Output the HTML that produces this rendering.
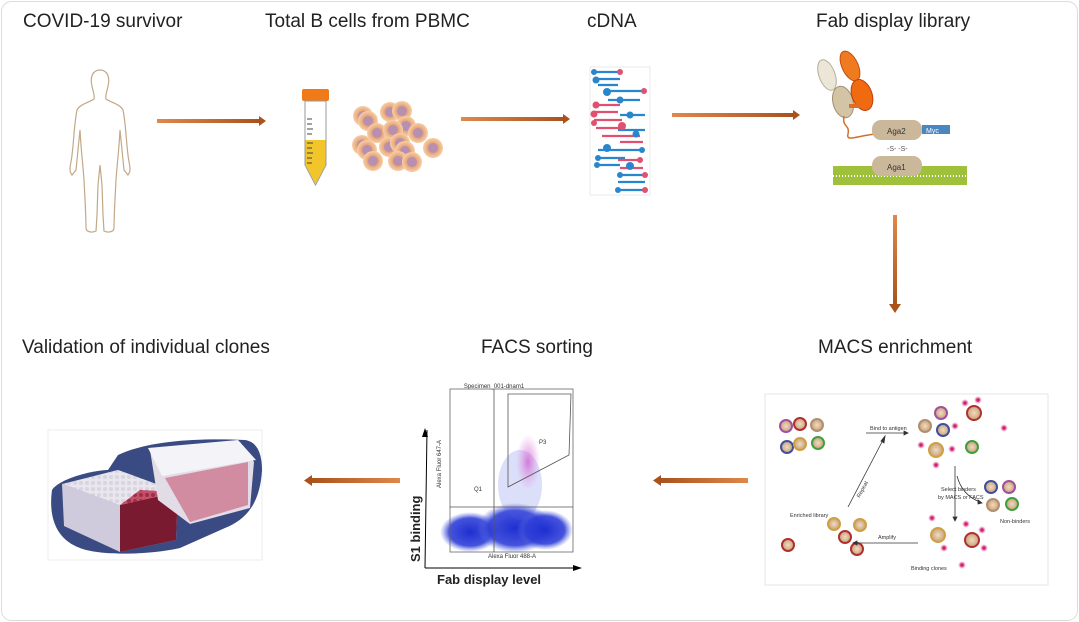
<!DOCTYPE html>
<html><head><meta charset="utf-8"><style>
html,body{margin:0;padding:0;background:#fff}
svg{display:block}
text{font-family:"Liberation Sans",Arial,sans-serif}
</style></head><body>
<svg width="1079" height="622" viewBox="0 0 1079 622" xmlns="http://www.w3.org/2000/svg">
<defs>
<linearGradient id="ar" x1="0" y1="0" x2="1" y2="0"><stop offset="0" stop-color="#e0884a"/><stop offset="1" stop-color="#a9521c"/></linearGradient>
<linearGradient id="arl" x1="1" y1="0" x2="0" y2="0"><stop offset="0" stop-color="#e0884a"/><stop offset="1" stop-color="#a9521c"/></linearGradient>
<linearGradient id="arv" x1="0" y1="0" x2="0" y2="1"><stop offset="0" stop-color="#e0884a"/><stop offset="1" stop-color="#a9521c"/></linearGradient>
<radialGradient id="cell"><stop offset="0.45" stop-color="#b98fb0"/><stop offset="0.55" stop-color="#e9a878"/><stop offset="1" stop-color="#f6cfa8"/></radialGradient>
<radialGradient id="blue"><stop offset="0" stop-color="#1f2fd0"/><stop offset="0.7" stop-color="#3040d8" stop-opacity="0.9"/><stop offset="1" stop-color="#6070e0" stop-opacity="0"/></radialGradient>
<radialGradient id="pink"><stop offset="0" stop-color="#d060d0" stop-opacity="0.8"/><stop offset="1" stop-color="#e090e0" stop-opacity="0"/></radialGradient>
<radialGradient id="yc"><stop offset="0" stop-color="#f0dcc0"/><stop offset="1" stop-color="#c8a07a"/></radialGradient>
<radialGradient id="pk"><stop offset="0.3" stop-color="#d02070"/><stop offset="1" stop-color="#f080b0" stop-opacity="0"/></radialGradient>
<pattern id="wells" width="6" height="6" patternUnits="userSpaceOnUse"><rect width="6" height="6" fill="#e9e6ee"/><circle cx="3" cy="3" r="2" fill="#d8d4e0"/></pattern>
<pattern id="rwells" width="6" height="6" patternUnits="userSpaceOnUse"><rect width="6" height="6" fill="#c0405a"/><circle cx="3" cy="3" r="2" fill="#9a1a38"/></pattern>
</defs>
<rect x="1.5" y="1.5" width="1076" height="619" rx="10" fill="#fff" stroke="#dcdcdc"/>

<g font-size="19" fill="#222">
<text x="23" y="27">COVID-19 survivor</text>
<text x="265" y="27">Total B cells from PBMC</text>
<text x="587" y="27">cDNA</text>
<text x="816" y="27">Fab display library</text>
<text x="22" y="353">Validation of individual clones</text>
<text x="481" y="353">FACS sorting</text>
<text x="818" y="353">MACS enrichment</text>
</g>

<rect x="157" y="119" width="103" height="4" fill="url(#ar)"/><polygon points="259,116 266,121 259,126" fill="#a9521c"/>
<rect x="461" y="117" width="103" height="4" fill="url(#ar)"/><polygon points="563,114 570,119 563,124" fill="#a9521c"/>
<rect x="672" y="113" width="122" height="4" fill="url(#ar)"/><polygon points="793,110 800,115 793,120" fill="#a9521c"/>
<rect x="893" y="215" width="4" height="90" fill="url(#arv)"/><polygon points="889,304 895,313 901,304" fill="#a9521c"/>
<rect x="311" y="478" width="89" height="5" fill="url(#arl)"/><polygon points="312,475 304,480.5 312,486" fill="#a9521c"/>
<rect x="660" y="478" width="88" height="5" fill="url(#arl)"/><polygon points="661,475 653,480.5 661,486" fill="#a9521c"/>

<path d="M100,70 C92,70 90,78 92,86 C93,92 95,95 94,99 C90,102 80,104 77,110 C74,125 74,140 72,155 C71,165 68,170 72,175 L76,170 L78,150 L80,130 C81,150 83,165 84,180 C85,200 86,215 86,228 C86,232 92,233 96,231 L97,215 L98,185 L100,165 L102,185 L103,215 L104,231 C108,233 114,232 114,228 C114,215 115,200 116,180 C117,165 119,150 120,130 L122,150 L124,170 L128,175 C132,170 129,165 128,155 C126,140 126,125 123,110 C120,104 110,102 106,99 C105,95 107,92 108,86 C110,78 108,70 100,70 Z" fill="none" stroke="#c2a886" stroke-width="1.2"/>

<rect x="302" y="89" width="27" height="12" rx="2" fill="#f07a18"/>
<path d="M305,101 L326,101 L326,165 L315.5,185 L305,165 Z" fill="#fff" stroke="#999"/>
<path d="M305.5,140 L325.5,140 L325.5,165 L315.5,184 L305.5,165 Z" fill="#f2c52a"/>
<g stroke="#444" stroke-width="1"><line x1="307" y1="119" x2="312" y2="119"/><line x1="307" y1="124" x2="312" y2="124"/><line x1="307" y1="129" x2="313" y2="129"/><line x1="307" y1="134" x2="312" y2="134"/><line x1="307" y1="143" x2="313" y2="143"/><line x1="307" y1="148" x2="312" y2="148"/><line x1="307" y1="153" x2="313" y2="153"/><line x1="307" y1="158" x2="312" y2="158"/><line x1="307" y1="163" x2="312" y2="163"/></g>

<g>
<circle cx="363" cy="116" r="10" fill="url(#cell)"/><circle cx="368" cy="121" r="10" fill="url(#cell)"/>
<circle cx="362" cy="145" r="10" fill="url(#cell)"/><circle cx="367" cy="150" r="10" fill="url(#cell)"/>
<circle cx="373" cy="161" r="10" fill="url(#cell)"/>
<circle cx="390" cy="112" r="10" fill="url(#cell)"/><circle cx="402" cy="111" r="10" fill="url(#cell)"/>
<circle cx="406" cy="126" r="10" fill="url(#cell)"/><circle cx="377" cy="133" r="10" fill="url(#cell)"/>
<circle cx="393" cy="130" r="10" fill="url(#cell)"/><circle cx="389" cy="147" r="10" fill="url(#cell)"/>
<circle cx="400" cy="143" r="10" fill="url(#cell)"/><circle cx="418" cy="133" r="10" fill="url(#cell)"/>
<circle cx="405" cy="151" r="10" fill="url(#cell)"/><circle cx="398" cy="161" r="10" fill="url(#cell)"/>
<circle cx="412" cy="162" r="10" fill="url(#cell)"/><circle cx="433" cy="148" r="10" fill="url(#cell)"/>
</g>

<rect x="590" y="67" width="60" height="128" fill="#fff" stroke="#ddd" stroke-width="0.6"/>
<g stroke-width="2.2">
<g stroke="#2a86cc"><line x1="594" y1="72" x2="620" y2="72"/><line x1="596" y1="79" x2="620" y2="79"/><line x1="598" y1="85" x2="618" y2="85"/><line x1="606" y1="91" x2="643" y2="91"/><line x1="608" y1="100" x2="640" y2="100"/><line x1="620" y1="115" x2="645" y2="115"/><line x1="618" y1="130" x2="645" y2="130"/><line x1="598" y1="150" x2="640" y2="150"/><line x1="596" y1="158" x2="625" y2="158"/><line x1="596" y1="165" x2="620" y2="165"/><line x1="620" y1="175" x2="645" y2="175"/><line x1="618" y1="182" x2="645" y2="182"/><line x1="618" y1="190" x2="645" y2="190"/></g>
<g stroke="#e05070"><line x1="596" y1="105" x2="620" y2="105"/><line x1="594" y1="112" x2="618" y2="112"/><line x1="594" y1="120" x2="622" y2="120"/><line x1="596" y1="128" x2="625" y2="128"/><line x1="602" y1="136" x2="640" y2="136"/><line x1="620" y1="142" x2="643" y2="142"/><line x1="618" y1="160" x2="640" y2="160"/><line x1="620" y1="168" x2="643" y2="168"/></g>
</g>
<g fill="#2a86cc"><circle cx="594" cy="72" r="3"/><circle cx="596" cy="80" r="3.5"/><circle cx="607" cy="92" r="4"/><circle cx="620" cy="100" r="3.5"/><circle cx="630" cy="115" r="3.5"/><circle cx="607" cy="148" r="4"/><circle cx="598" cy="158" r="3"/><circle cx="597" cy="165" r="3"/><circle cx="630" cy="166" r="4"/><circle cx="620" cy="175" r="3"/><circle cx="618" cy="190" r="3"/><circle cx="642" cy="150" r="3"/><circle cx="636" cy="134" r="3.5"/></g>
<g fill="#e05070"><circle cx="620" cy="72" r="3"/><circle cx="644" cy="91" r="3"/><circle cx="596" cy="105" r="3.5"/><circle cx="594" cy="114" r="3.5"/><circle cx="622" cy="126" r="4"/><circle cx="594" cy="123" r="3"/><circle cx="645" cy="190" r="3"/><circle cx="645" cy="175" r="3"/><circle cx="640" cy="160" r="3"/></g>

<!-- Fab display -->
<ellipse cx="827" cy="75" rx="8" ry="16" transform="rotate(-20 827 75)" fill="#ebe6d8" stroke="#b8ad95"/>
<ellipse cx="843" cy="102" rx="10" ry="16" transform="rotate(-15 843 102)" fill="#d4c4a6" stroke="#a09070"/>
<ellipse cx="850" cy="66" rx="8" ry="16" transform="rotate(-25 850 66)" fill="#f07a20" stroke="#c05010"/>
<ellipse cx="862" cy="95" rx="10" ry="16" transform="rotate(-20 862 95)" fill="#f06a10" stroke="#c04010"/>
<rect x="849" y="104" width="12" height="4" fill="#e07020"/>
<path d="M844,116 C842,128 850,124 848,134 C846,142 856,136 876,134" fill="none" stroke="#d07030" stroke-width="1.5"/>
<rect x="872" y="120" width="50" height="20" rx="9" fill="#cbb89a"/>
<text x="887" y="134" font-size="8" fill="#333">Aga2</text>
<rect x="922" y="125" width="28" height="9" fill="#4a86c0"/>
<text x="926" y="133" font-size="7" fill="#fff">Myc</text>
<text x="887" y="151" font-size="7" fill="#555">-S- -S-</text>
<rect x="833" y="166" width="134" height="19" fill="#9ec03a"/>
<line x1="833" y1="176" x2="967" y2="176" stroke="#fff" stroke-width="2" stroke-dasharray="1 2"/>
<rect x="872" y="156" width="50" height="20" rx="9" fill="#cbb89a"/>
<text x="887" y="170" font-size="8" fill="#333">Aga1</text>

<!-- plates -->
<rect x="48" y="430" width="214" height="130" fill="#fff" stroke="#eee"/>
<path d="M52,490 C60,478 95,470 108,470 L118,455 C150,440 200,438 245,440 C258,442 262,455 262,470 C260,505 245,520 225,528 L180,548 C150,555 100,556 80,548 C58,540 48,520 52,490 Z" fill="#3a4a82"/>
<path d="M62,484 L118,470 L178,492 L176,540 L120,552 L64,526 Z" fill="#cfcbdc"/>
<path d="M120,504 L178,492 L176,540 L120,552 Z" fill="#7a1a30"/>
<path d="M64,484 L118,470 L178,492 L120,505 Z" fill="url(#wells)"/>
<path d="M140,490 L178,492 L120,505 Z" fill="url(#rwells)" opacity="0.9"/>
<path d="M150,450 L240,442 L254,462 L250,508 L190,524 L158,500 Z" fill="#e2dce6"/>
<path d="M165,478 L248,462 L248,505 L190,522 Z" fill="#c24a68" opacity="0.55"/>
<path d="M148,448 L238,440 L256,460 L162,476 Z" fill="#f4f4f8"/>

<!-- FACS -->
<rect x="402" y="380" width="169" height="212" fill="#fff"/>
<text x="494" y="388" font-size="6" text-anchor="middle" fill="#333">Specimen_001-dnam1</text>
<ellipse cx="470" cy="532" rx="30" ry="20" fill="url(#blue)"/>
<ellipse cx="515" cy="528" rx="38" ry="25" fill="url(#blue)"/>
<ellipse cx="545" cy="530" rx="28" ry="20" fill="url(#blue)"/>
<ellipse cx="520" cy="485" rx="22" ry="35" fill="#5060e0" opacity="0.2"/>
<ellipse cx="528" cy="462" rx="12" ry="28" fill="url(#pink)"/>
<rect x="450" y="389" width="123" height="163" fill="none" stroke="#666" stroke-width="0.8"/>
<line x1="450" y1="507" x2="573" y2="507" stroke="#555" stroke-width="0.8"/>
<line x1="494" y1="389" x2="494" y2="552" stroke="#555" stroke-width="0.8"/>
<polygon points="508,394 571,394 569,455 508,487" fill="none" stroke="#555" stroke-width="0.8"/>
<text x="539" y="444" font-size="6" fill="#333">P3</text>
<text x="474" y="491" font-size="6" fill="#333">Q1</text>
<text x="488" y="558" font-size="6" fill="#333">Alexa Fluor 488-A</text>
<text x="441" y="488" font-size="6" fill="#333" transform="rotate(-90 441 488)">Alexa Fluor 647-A</text>
<line x1="425" y1="568" x2="427" y2="430" stroke="#000" stroke-width="1"/>
<polygon points="422,437 425,428 428,437" fill="#000"/>
<line x1="425" y1="568" x2="580" y2="568" stroke="#000" stroke-width="1"/>
<polygon points="573,565 582,568 573,571" fill="#000"/>
<text x="420" y="562" font-size="13" font-weight="bold" fill="#222" transform="rotate(-90 420 562)">S1 binding</text>
<text x="437" y="584" font-size="13" font-weight="bold" fill="#222">Fab display level</text>

<!-- MACS -->
<rect x="765" y="394" width="283" height="191" fill="#fff" stroke="#e4e4e4"/>
<g fill="url(#yc)" stroke-width="2">
<circle cx="786" cy="426" r="6" stroke="#a050a0"/>
<circle cx="800" cy="424" r="6" stroke="#b03030"/>
<circle cx="817" cy="425" r="6" stroke="#b09070"/>
<circle cx="787" cy="447" r="6" stroke="#4050a0"/>
<circle cx="800" cy="444" r="6" stroke="#d0a040"/>
<circle cx="818" cy="443" r="6" stroke="#40a040"/>
<circle cx="834" cy="524" r="6" stroke="#d0a040"/>
<circle cx="845" cy="537" r="6" stroke="#b03030"/>
<circle cx="860" cy="525" r="6" stroke="#d0a040"/>
<circle cx="857" cy="549" r="6" stroke="#b03030"/>
<circle cx="788" cy="545" r="6" stroke="#b03030"/>
<circle cx="941" cy="413" r="6" stroke="#a050a0"/>
<circle cx="925" cy="426" r="6" stroke="#b09070"/>
<circle cx="943" cy="430" r="6" stroke="#4050a0"/>
<circle cx="974" cy="413" r="7" stroke="#b03030"/>
<circle cx="936" cy="450" r="7" stroke="#d0a040"/>
<circle cx="972" cy="447" r="6" stroke="#40a040"/>
<circle cx="991" cy="487" r="6" stroke="#4050a0"/>
<circle cx="1009" cy="487" r="6" stroke="#a050a0"/>
<circle cx="993" cy="505" r="6" stroke="#b09070"/>
<circle cx="1012" cy="504" r="6" stroke="#40a040"/>
<circle cx="938" cy="535" r="7" stroke="#d0a040"/>
<circle cx="972" cy="540" r="7" stroke="#b03030"/>
</g>
<g fill="url(#pk)"><circle cx="965" cy="403" r="4"/><circle cx="978" cy="400" r="4"/><circle cx="1004" cy="428" r="4"/><circle cx="955" cy="426" r="4"/><circle cx="921" cy="445" r="4"/><circle cx="952" cy="449" r="4"/><circle cx="936" cy="465" r="4"/><circle cx="932" cy="518" r="4"/><circle cx="944" cy="548" r="4"/><circle cx="966" cy="524" r="4"/><circle cx="984" cy="548" r="4"/><circle cx="962" cy="565" r="4"/><circle cx="982" cy="530" r="4"/></g>
<g stroke="#333" stroke-width="0.8" fill="#333">
<line x1="866" y1="433" x2="905" y2="433"/><polygon points="904,431 908,433 904,435"/>
<line x1="848" y1="507" x2="883" y2="440"/><polygon points="881,441 885,436 884,443"/>
<line x1="955" y1="466" x2="955" y2="518"/><polygon points="953,517 955,521 957,517"/>
<path d="M957,476 Q962,495 980,502" fill="none"/><polygon points="978,500 982,503 978,504"/>
<line x1="918" y1="543" x2="856" y2="543"/><polygon points="857,541 853,543 857,545"/>
</g>
<g font-size="5.5" fill="#333">
<text x="870" y="430">Bind to antigen</text>
<text x="843" y="490" transform="rotate(-62 858 480)">Repeat</text>
<text x="941" y="491">Select binders</text>
<text x="938" y="499">by MACS or FACS</text>
<text x="790" y="517">Enriched library</text>
<text x="1000" y="523">Non-binders</text>
<text x="878" y="539">Amplify</text>
<text x="911" y="570">Binding clones</text>
</g>
</svg>
</body></html>
